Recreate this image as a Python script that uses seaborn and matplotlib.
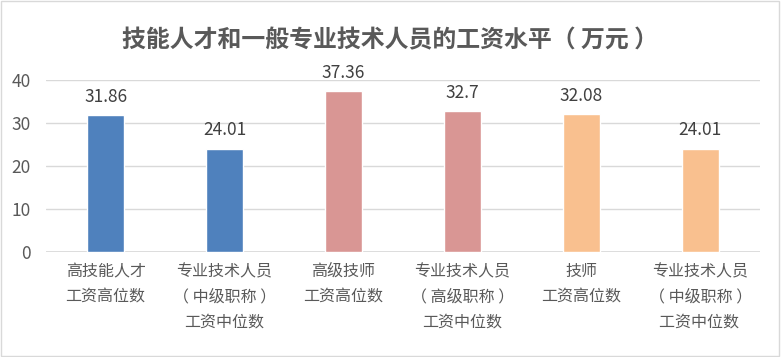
import matplotlib
matplotlib.use('Agg')
import matplotlib.pyplot as plt
import seaborn as sns
import pandas as pd
from matplotlib.patches import Rectangle

# chart data
categories = ['高技能人才\n工资高位数', '专业技术人员\n（ 中级职称 ）\n工资中位数', '高级技师\n工资高位数',
              '专业技术人员\n（ 高级职称 ）\n工资中位数', '技师\n工资高位数', '专业技术人员\n（ 中级职称 ）\n工资中位数 ']
values = [31.86, 24.01, 37.36, 32.7, 32.08, 24.01]
value_labels = ['31.86', '24.01', '37.36', '32.7', '32.08', '24.01']
bar_colors = ['#4F81BD', '#4F81BD', '#D99694', '#D99694', '#F9C08F', '#F9C08F']
yticks = [0, 10, 20, 30, 40]

sns.set_theme(style='white')
plt.rcParams['font.family'] = ['Noto Sans CJK SC', 'DejaVu Sans']

df = pd.DataFrame({'cat': categories, 'val': values})

fig = plt.figure(figsize=(7.81, 3.57), dpi=100)
ax = fig.add_axes([0.059, 0.294, 0.914, 0.482])

sns.barplot(data=df, x='cat', y='val', hue='cat', palette=bar_colors,
            width=0.31, legend=False, ax=ax, saturation=1)

for i, (v, lab) in enumerate(zip(values, value_labels)):
    ax.text(i, v + 2.2, lab, ha='center', va='bottom', fontsize=12.5, color='#404040')

ax.set_ylim(0, 40)
ax.set_yticks(yticks)
ax.set_xlim(-0.5, len(categories) - 0.5)
ax.yaxis.grid(True, color='#D9D9D9', linewidth=1)
ax.set_axisbelow(True)
for s in ax.spines.values():
    s.set_visible(False)
ax.axhline(0, color='#D9D9D9', linewidth=1.2, zorder=0)
ax.set_xlabel('')
ax.set_ylabel('')
ax.tick_params(axis='both', length=0, labelsize=11.5, labelcolor='#595959')
ax.tick_params(axis='y', labelsize=12.5, pad=11)
ax.tick_params(axis='x', pad=8)
for t in ax.get_xticklabels():
    t.set_linespacing(1.62)
    t.set_va('top')

fig.text(0.5, 0.888, '技能人才和一般专业技术人员的工资水平（ 万元 ）', ha='center', va='center',
         fontsize=17.2, fontweight='bold', color='#595959')

# light border around the chart
fig.patches.append(Rectangle((0.001, 0.002), 0.997, 0.995, transform=fig.transFigure,
                             fill=False, edgecolor='#D9D9D9', linewidth=1))

fig.savefig('out.png', dpi=100)
